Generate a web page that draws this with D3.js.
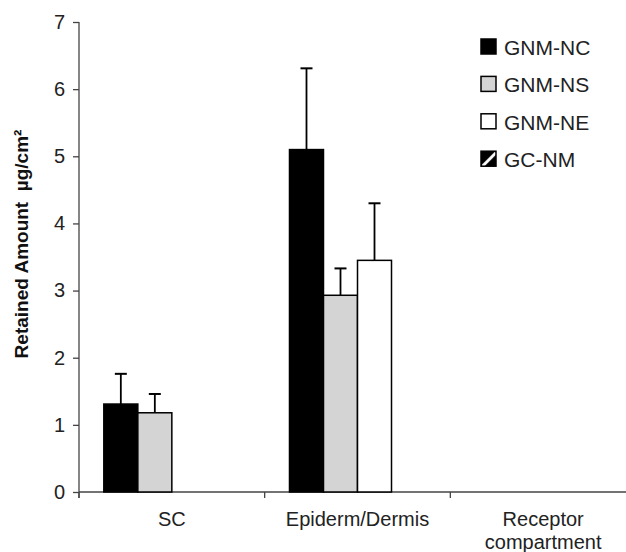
<!DOCTYPE html>
<html lang="en">
<head>
  <meta charset="UTF-8" />
  <title>Retained Amount</title>
  <script src="https://d3js.org/d3.v7.min.js"></script>
  <style>
    body { margin: 0; background: #fff; }
    svg { display: block; font-family: "Liberation Sans", Arial, sans-serif; }
  </style>
</head>
<body>
  <div id="chart"></div>
  <script>
    // Data
    const categories = ["SC", "Epiderm/Dermis", "Receptor compartment"];
    const series = ["GNM-NC", "GNM-NS", "GNM-NE", "GC-NM"];
    const means = [
      [1.31, 1.18, null, null],
      [5.10, 2.93, 3.45, null],
      [null, null, null, null]
    ];
    const errors = [
      [0.45, 0.28, null, null],
      [1.21, 0.40, 0.85, null],
      [null, null, null, null]
    ];
    const yTicks = [0, 1, 2, 3, 4, 5, 6, 7];

    const fills = { "GNM-NC": "#000", "GNM-NS": "#d4d4d4", "GNM-NE": "#fff", "GC-NM": "url(#hatch)" };

    const width = 626, height = 552;
    const margin = { left: 79, right: -10, top: 22, bottom: 60 };

    const svg = d3.select("#chart").append("svg")
      .attr("width", width)
      .attr("height", height);

    // diagonal pattern for GC-NM
    const pat = svg.append("defs").append("pattern")
      .attr("id", "hatch")
      .attr("patternUnits", "objectBoundingBox")
      .attr("patternContentUnits", "objectBoundingBox")
      .attr("width", 1).attr("height", 1);
    pat.append("rect").attr("width", 1).attr("height", 1).attr("fill", "#000");
    pat.append("path").attr("d", "M0.1,1 L1,0.1").attr("stroke", "#fff").attr("stroke-width", 0.2);

    const x = d3.scaleBand()
      .domain(categories)
      .range([margin.left, width - margin.right]);

    const xInner = d3.scaleBand()
      .domain(series)
      .range([0, x.bandwidth()])
      .paddingOuter(0.73);

    const y = d3.scaleLinear()
      .domain([0, 7])
      .range([height - margin.bottom, margin.top]);

    // y axis
    const yAxis = svg.append("g")
      .attr("transform", `translate(${margin.left},0)`)
      .call(d3.axisLeft(y).tickValues(yTicks).tickSize(6).tickPadding(8).tickFormat(d3.format("d")));
    yAxis.select(".domain").attr("stroke", "#444").attr("stroke-width", 1.3)
      .attr("d", `M0,${y(7)}V${y(0) + 6}`);
    yAxis.selectAll(".tick line").attr("stroke", "#444").attr("stroke-width", 1.3);
    yAxis.selectAll(".tick text").attr("font-size", 20).attr("fill", "#222")
      .attr("font-family", "Liberation Sans, Arial, sans-serif");

    // x axis line and boundary ticks
    const xAxis = svg.append("g");
    xAxis.append("line")
      .attr("x1", margin.left).attr("x2", width)
      .attr("y1", y(0)).attr("y2", y(0))
      .attr("stroke", "#444").attr("stroke-width", 1.3);
    xAxis.selectAll("line.bound")
      .data(categories)
      .join("line")
      .attr("class", "bound")
      .attr("x1", d => x(d)).attr("x2", d => x(d))
      .attr("y1", y(0)).attr("y2", y(0) + 6)
      .attr("stroke", "#444").attr("stroke-width", 1.3);

    // category labels
    const catLabels = xAxis.selectAll("text.cat")
      .data(categories)
      .join("text")
      .attr("class", "cat")
      .attr("text-anchor", "middle")
      .attr("font-size", 20)
      .attr("fill", "#222")
      .attr("y", y(0) + 34);
    catLabels.each(function (d) {
      const words = d === "Receptor compartment" ? ["Receptor", "compartment"] : [d];
      const t = d3.select(this);
      words.forEach((w, i) => {
        t.append("tspan")
          .attr("x", x(d) + x.bandwidth() / 2)
          .attr("dy", i === 0 ? 0 : 23)
          .text(w);
      });
    });

    // bars
    const rows = [];
    categories.forEach((c, ci) => {
      series.forEach((s, si) => {
        if (means[ci][si] != null) {
          rows.push({ cat: c, ser: s, v: means[ci][si], e: errors[ci][si] });
        }
      });
    });

    const barG = svg.append("g");

    // error bars (drawn behind bars)
    barG.selectAll("line.err")
      .data(rows)
      .join("line")
      .attr("class", "err")
      .attr("x1", d => x(d.cat) + xInner(d.ser) + xInner.bandwidth() / 2)
      .attr("x2", d => x(d.cat) + xInner(d.ser) + xInner.bandwidth() / 2)
      .attr("y1", d => y(d.v))
      .attr("y2", d => y(d.v + d.e))
      .attr("stroke", "#000").attr("stroke-width", 1.8);
    barG.selectAll("line.cap")
      .data(rows)
      .join("line")
      .attr("class", "cap")
      .attr("x1", d => x(d.cat) + xInner(d.ser) + xInner.bandwidth() / 2 - 6)
      .attr("x2", d => x(d.cat) + xInner(d.ser) + xInner.bandwidth() / 2 + 6)
      .attr("y1", d => y(d.v + d.e))
      .attr("y2", d => y(d.v + d.e))
      .attr("stroke", "#000").attr("stroke-width", 2);

    barG.selectAll("rect.bar")
      .data(rows)
      .join("rect")
      .attr("class", "bar")
      .attr("x", d => x(d.cat) + xInner(d.ser))
      .attr("y", d => y(d.v))
      .attr("width", xInner.bandwidth())
      .attr("height", d => y(0) - y(d.v))
      .attr("fill", d => fills[d.ser])
      .attr("stroke", "#000")
      .attr("stroke-width", 1.5);

    // y axis title
    svg.append("text")
      .attr("transform", `translate(28,${(y(0) + y(7)) / 2 - 13}) rotate(-90)`)
      .attr("text-anchor", "middle")
      .attr("font-size", 19)
      .attr("font-weight", "bold")
      .attr("fill", "#111")
      .style("white-space", "pre")
      .text("Retained Amount  µg/cm²");

    // legend
    const legend = svg.append("g").attr("transform", "translate(481,39)");
    const item = legend.selectAll("g")
      .data(series)
      .join("g")
      .attr("transform", (d, i) => `translate(0,${i * 37.4})`);
    item.append("rect")
      .attr("width", 15).attr("height", 15)
      .attr("fill", d => fills[d])
      .attr("stroke", "#000").attr("stroke-width", 1.5);
    item.append("text")
      .attr("x", 23)
      .attr("y", 16)
      .attr("font-size", 21)
      .attr("fill", "#222")
      .text(d => d);
  </script>
</body>
</html>
